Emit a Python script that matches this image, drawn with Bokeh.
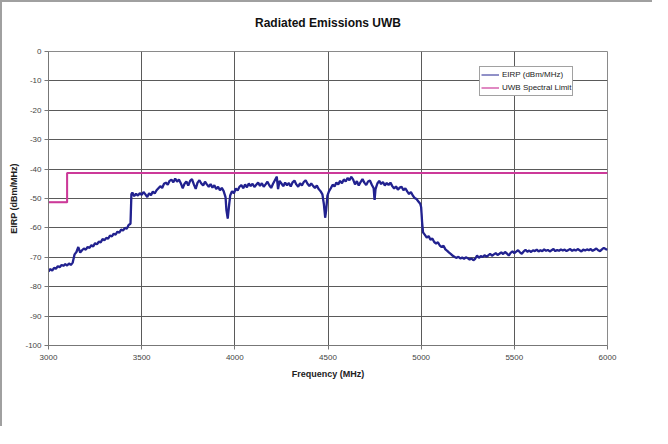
from bokeh.plotting import figure
from bokeh.models import FixedTicker, Legend, LegendItem, CustomJSTickFormatter, LinearAxis
from bokeh.embed import file_html
from bokeh.resources import INLINE

title_text = "Radiated Emissions UWB"
x_label = "Frequency (MHz)"
y_label = "EIRP (dBm/MHz)"
series_names = ["EIRP (dBm/MHz)", "UWB Spectral Limit"]
x_ticks = [3000, 3500, 4000, 4500, 5000, 5500, 6000]
y_ticks = [-100, -90, -80, -70, -60, -50, -40, -30, -20, -10, 0]

freq = [
    3000, 3010, 3020, 3030, 3040, 3050, 3060, 3070, 3080, 3090, 3100, 3110, 3120, 3130,
    3140, 3150, 3160, 3170, 3180, 3190, 3200, 3210, 3220, 3230, 3240, 3250, 3260, 3270,
    3280, 3290, 3300, 3310, 3320, 3330, 3340, 3350, 3360, 3370, 3380, 3390, 3400, 3410,
    3420, 3430, 3440, 3445, 3450, 3460, 3470, 3480, 3490, 3500, 3510, 3520, 3530, 3540,
    3550, 3560, 3570, 3580, 3590, 3600, 3610, 3620, 3630, 3640, 3650, 3660, 3670, 3680,
    3690, 3700, 3710, 3720, 3730, 3740, 3750, 3760, 3770, 3780, 3790, 3800, 3810, 3820,
    3830, 3840, 3850, 3860, 3870, 3880, 3890, 3900, 3910, 3920, 3930, 3940, 3950, 3955,
    3962, 3968, 3975, 3985, 3995, 4005, 4015, 4025, 4035, 4045, 4055, 4065, 4075, 4085,
    4095, 4105, 4115, 4125, 4135, 4145, 4155, 4165, 4175, 4185, 4195, 4205, 4215, 4225,
    4232, 4240, 4250, 4260, 4270, 4280, 4290, 4300, 4310, 4320, 4330, 4340, 4350, 4360,
    4370, 4380, 4390, 4400, 4410, 4420, 4430, 4440, 4450, 4460, 4470, 4478, 4485, 4490,
    4497, 4505, 4515, 4525, 4535, 4545, 4555, 4565, 4575, 4585, 4595, 4605, 4615, 4625,
    4635, 4645, 4655, 4665, 4675, 4685, 4695, 4705, 4715, 4725, 4735, 4745, 4750, 4755,
    4765, 4775, 4785, 4795, 4805, 4815, 4825, 4835, 4845, 4855, 4865, 4875, 4885, 4895,
    4905, 4915, 4925, 4935, 4945, 4955, 4965, 4975, 4985, 4995, 5000, 5005, 5010, 5020,
    5030, 5040, 5050, 5060, 5070, 5080, 5090, 5100, 5110, 5120, 5130, 5140, 5150, 5160,
    5170, 5180, 5190, 5200, 5210, 5220, 5230, 5240, 5250, 5260, 5270, 5280, 5290, 5300,
    5310, 5320, 5330, 5340, 5350, 5360, 5370, 5380, 5390, 5400, 5410, 5420, 5430, 5440,
    5450, 5460, 5470, 5480, 5490, 5500, 5510, 5520, 5530, 5540, 5550, 5560, 5570, 5580,
    5590, 5600, 5610, 5620, 5630, 5640, 5650, 5660, 5670, 5680, 5690, 5700, 5710, 5720,
    5730, 5740, 5750, 5760, 5770, 5780, 5790, 5800, 5810, 5820, 5830, 5840, 5850, 5860,
    5870, 5880, 5890, 5900, 5910, 5920, 5930, 5940, 5950, 5960, 5970, 5980, 5990, 6000,
]
eirp = [
    -74.8, -74.0, -74.5, -73.6, -73.9, -73.0, -73.4, -72.6, -72.9, -72.3, -72.8, -72.1, -72.6, -71.8,
    -69.0, -68.2, -66.5, -68.4, -67.6, -67.0, -67.4, -66.5, -66.8, -65.9, -66.3, -65.2, -65.6, -64.7,
    -64.9, -63.8, -64.2, -63.4, -63.7, -62.6, -62.9, -62.0, -62.3, -61.3, -61.6, -60.6, -60.9, -60.0,
    -60.3, -59.0, -58.6, -48.5, -48.0, -49.2, -48.4, -49.0, -48.2, -48.8, -47.8, -48.6, -49.5, -48.2,
    -48.9, -47.6, -48.3, -47.2, -46.5, -45.8, -46.4, -45.0, -44.6, -45.3, -44.0, -43.6, -44.5, -43.2,
    -44.3, -43.5, -44.8, -46.5, -45.0, -44.2, -45.6, -44.0, -43.4, -45.2, -46.7, -44.6, -43.8, -44.9,
    -45.6, -44.3, -45.2, -46.0, -45.1, -46.3, -45.5, -46.8, -46.0, -47.2, -46.4, -47.5, -49.5, -54.0,
    -56.8, -53.0, -49.0, -47.5, -48.2, -46.6, -47.3, -46.0, -45.4, -46.5, -45.2, -46.2, -44.9, -45.8,
    -45.0, -46.1, -45.3, -44.6, -45.7, -44.8, -46.0, -45.2, -44.3, -45.5, -46.4, -45.0, -43.8, -42.6,
    -46.8, -44.0, -44.9, -45.8, -44.6, -45.5, -44.7, -45.9, -44.5, -43.9, -45.2, -46.0, -44.8, -45.6,
    -44.4, -43.8, -45.0, -45.8, -44.9, -45.7, -46.4, -45.6, -46.8, -47.5, -48.6, -52.0, -56.5, -54.0,
    -49.0, -47.6, -46.5, -45.3, -45.9, -44.6, -45.2, -44.0, -44.8, -43.5, -44.2, -43.0, -43.8, -42.6,
    -43.6, -45.2, -44.1, -45.6, -44.4, -43.4, -44.6, -45.4, -44.2, -43.9, -45.3, -46.5, -50.5, -46.8,
    -44.9, -44.0, -45.1, -44.4, -45.6, -44.7, -45.4, -44.6, -45.8, -46.6, -45.9, -47.0, -46.3, -46.0,
    -47.2, -46.5, -47.6, -48.5, -47.8, -49.0, -49.8, -50.2, -51.0, -51.8, -53.0, -58.0, -61.5, -62.4,
    -63.3, -62.8, -64.0, -63.6, -64.8, -65.3, -64.9, -66.0, -66.5, -66.1, -67.3, -67.8, -68.4, -68.9,
    -69.5, -69.9, -70.2, -69.8, -70.4, -70.1, -70.5, -70.0, -70.3, -70.8, -70.4, -71.0, -70.5, -69.4,
    -70.2, -69.6, -69.9, -69.3, -69.8, -69.4, -68.8, -69.5, -69.0, -68.6, -69.2, -68.8, -68.3, -68.9,
    -68.2, -68.7, -69.4, -68.5, -68.0, -68.6, -68.1, -67.6, -68.3, -68.8, -68.0, -67.5, -68.1, -67.7,
    -68.2, -67.6, -67.9, -67.4, -68.0, -67.6, -67.9, -67.3, -67.8, -67.5, -68.0, -67.6, -67.2, -67.9,
    -67.5, -67.8, -67.3, -67.7, -67.4, -67.9, -67.5, -67.2, -67.8, -67.4, -67.7, -67.2, -67.6, -68.0,
    -67.4, -67.7, -67.3, -67.6, -67.2, -67.8, -67.4, -67.0, -67.6, -67.9, -67.3, -66.8, -67.2, -67.4,
]

# FCC UWB spectral limit (step)
limit_freq = [3000, 3100, 3100, 6000]
limit_eirp = [-51.3, -51.3, -41.3, -41.3]

FONT = "Liberation Sans"
GRID = "#5a5a5a"
BLUE = "#232390"
MAGENTA = "#cc3a99"

p = figure(
    output_backend="svg", toolbar_location=None,
    frame_width=559, frame_height=294,
    min_border_left=46, min_border_right=45, min_border_top=49, min_border_bottom=81,
    x_range=(3000, 6000), y_range=(-100, 0),
)
p.styles = {"border-left": "2px solid #a0a0a0", "border-top": "2px solid #a0a0a0"}
p.background_fill_color = "white"
p.border_fill_color = "white"
p.outline_line_color = "#8a8a8a"
p.outline_line_width = 1

xax = p.below[0]
yax = p.left[0]

for ax in (xax, yax):
    ax.axis_label_text_font = FONT
    ax.axis_label_text_font_size = "9px"
    ax.axis_label_text_font_style = "bold"
    ax.axis_label_text_color = "#222222"
    ax.major_label_text_font = FONT
    ax.major_label_text_font_size = "8px"
    ax.major_label_text_color = "#444444"
    ax.axis_line_color = "#777777"
    ax.major_tick_line_color = "#777777"
    ax.minor_tick_line_color = None
    ax.major_tick_in = 0
    ax.major_tick_out = 4
    ax.formatter = CustomJSTickFormatter(code="return tick.toFixed(0);")

xax.ticker = FixedTicker(ticks=x_ticks)
yax.ticker = FixedTicker(ticks=y_ticks)
xax.axis_label = x_label
yax.axis_label = y_label
xax.major_label_standoff = 5
yax.major_label_standoff = 3
xax.axis_label_standoff = 6
yax.axis_label_standoff = 3
yax.major_label_orientation = "horizontal"

# chart title: carried by a tick-less axis above the frame
title_axis = LinearAxis(
    ticker=FixedTicker(ticks=[]), axis_label=title_text,
    axis_line_color=None, major_tick_line_color=None, minor_tick_line_color=None,
    major_tick_out=0, major_tick_in=0, major_label_standoff=0,
    axis_label_standoff=22, axis_label_text_font=FONT, axis_label_text_font_size="12px",
    axis_label_text_font_style="bold", axis_label_text_color="#111111",
)
p.add_layout(title_axis, "above")

p.xgrid[0].ticker = FixedTicker(ticks=x_ticks)
p.ygrid[0].ticker = FixedTicker(ticks=y_ticks)
p.xgrid.grid_line_color = GRID
p.ygrid.grid_line_color = GRID
p.xgrid.grid_line_width = 1
p.ygrid.grid_line_width = 1

# thick traces
p.line(limit_freq, limit_eirp, line_color=MAGENTA, line_width=2)
p.line(freq, eirp, line_color=BLUE, line_width=2.3)
# thin overlays used for legend samples
r_limit = p.line(limit_freq, limit_eirp, line_color=MAGENTA, line_width=1.2)
r_eirp = p.line(freq, eirp, line_color=BLUE, line_width=1)

legend = Legend(
    items=[LegendItem(label=series_names[0], renderers=[r_eirp]),
           LegendItem(label=series_names[1], renderers=[r_limit])],
    location=(431, 249),
    label_text_font=FONT, label_text_font_size="8px", label_text_color="#222222",
    glyph_width=18, glyph_height=13, label_height=13, label_standoff=3,
    spacing=0, padding=1, margin=0,
    border_line_color="#444444", border_line_width=1,
    background_fill_color="white", background_fill_alpha=1,
)
p.add_layout(legend)

open("out.html", "w").write(file_html(p, INLINE))
